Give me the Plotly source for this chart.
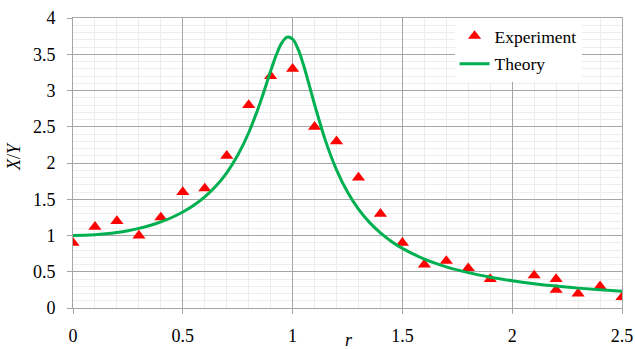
import plotly.graph_objects as go

exp_r = [0, 0.1, 0.2, 0.3, 0.4, 0.5, 0.6, 0.7, 0.8, 0.9, 1.0, 1.1, 1.2, 1.3, 1.4, 1.5,
         1.6, 1.7, 1.8, 1.9, 2.1, 2.2, 2.2, 2.3, 2.4, 2.5]
exp_xy = [0.9, 1.12, 1.2, 1.0, 1.25, 1.6, 1.65, 2.1, 2.8, 3.2, 3.3, 2.5, 2.3, 1.8, 1.3, 0.9,
          0.6, 0.65, 0.55, 0.4, 0.45, 0.4, 0.25, 0.2, 0.3, 0.15]

theory_r = [0, 0.05, 0.1, 0.15, 0.2, 0.25, 0.3, 0.35, 0.4, 0.45, 0.5, 0.55, 0.6, 0.65, 0.7,
            0.75, 0.8, 0.85, 0.9, 0.925, 0.95, 0.975, 1.0, 1.025, 1.05, 1.075, 1.1, 1.15,
            1.2, 1.25, 1.3, 1.35, 1.4, 1.45, 1.5, 1.6, 1.7, 1.8, 1.9, 2.0, 2.1, 2.2, 2.3,
            2.4, 2.5]
theory_xy = [1.0, 1.0025, 1.0101, 1.023, 1.0415, 1.0663, 1.0981, 1.138, 1.1874, 1.2483,
             1.3235, 1.4165, 1.5325, 1.6787, 1.8651, 2.1056, 2.4169, 2.8118, 3.2676, 3.4837,
             3.6525, 3.7364, 3.7088, 3.5699, 3.3477, 3.0819, 2.8069, 2.3052, 1.9055, 1.5992,
             1.3641, 1.181, 1.0358, 0.9186, 0.8225, 0.6751, 0.5682, 0.4877, 0.4252, 0.3756,
             0.3352, 0.302, 0.2742, 0.2506, 0.2305]

x_ticks = [0, 0.5, 1, 1.5, 2, 2.5]
x_tick_text = ["0", "0.5", "1", "1.5", "2", "2.5"]
y_ticks = [0, 0.5, 1, 1.5, 2, 2.5, 3, 3.5, 4]
y_tick_text = ["0", "0.5", "1", "1.5", "2", "2.5", "3", "3.5", "4"]

FONT = "Liberation Serif, Times New Roman, serif"

fig = go.Figure()
fig.add_trace(go.Scatter(
    x=exp_r, y=exp_xy, mode="markers", name="Experiment", legendgroup="a",
    marker=dict(symbol="triangle-up", size=11.5, color="#FF0000"),
))
fig.add_trace(go.Scatter(
    x=theory_r, y=theory_xy, mode="lines", name="Theory", line_shape="spline",
    legendgroup="b",
    line=dict(color="#00B050", width=3),
))

grid_major = "#A6A6A6"
grid_minor = "#EDEDED"

fig.update_layout(
    width=635, height=349,
    margin=dict(l=73, r=13, t=18, b=41, autoexpand=False),
    paper_bgcolor="white", plot_bgcolor="white",
    font=dict(family=FONT, size=17.5, color="#000000"),
    showlegend=True,
    legend=dict(
        x=0.695, y=1.0, xanchor="left", yanchor="top",
        bgcolor="white", borderwidth=0,
        font=dict(family=FONT, size=17.5),
        tracegroupgap=2,
    ),
    xaxis=dict(
        range=[0, 2.5], tickvals=x_ticks, ticktext=x_tick_text,
        showgrid=True, gridcolor=grid_major, gridwidth=1,
        minor=dict(dtick=0.1, showgrid=True, gridcolor=grid_minor, gridwidth=1),
        ticks="outside", ticklen=5, tickcolor=grid_major,
        ticklabelstandoff=6,
        showline=True, linecolor=grid_major, linewidth=1, mirror=True,
        zeroline=False, automargin=False,
        tickfont=dict(family=FONT, size=18),
    ),
    yaxis=dict(
        range=[0, 4], tickvals=y_ticks, ticktext=y_tick_text,
        showgrid=True, gridcolor=grid_major, gridwidth=1,
        minor=dict(dtick=0.1, showgrid=True, gridcolor=grid_minor, gridwidth=1),
        ticks="outside", ticklen=5, tickcolor=grid_major,
        ticklabelstandoff=8,
        showline=True, linecolor=grid_major, linewidth=1, mirror=True,
        zeroline=False, automargin=False,
        tickfont=dict(family=FONT, size=18),
    ),
    annotations=[
        dict(text="<i>r</i>", xref="paper", yref="paper", x=(349 - 73) / 549,
             y=-(340 - 308) / 290, xanchor="center", yanchor="middle",
             showarrow=False, font=dict(family=FONT, size=18)),
        dict(text="<i>X</i>/<i>Y</i>", xref="paper", yref="paper", x=-(73 - 14) / 549,
             y=(308 - 157) / 290, xanchor="center", yanchor="middle", textangle=-90,
             showarrow=False, font=dict(family=FONT, size=18)),
    ],
)

fig.write_html("out.html", config={"displayModeBar": False},
               post_script="document.body.style.margin='0';")
